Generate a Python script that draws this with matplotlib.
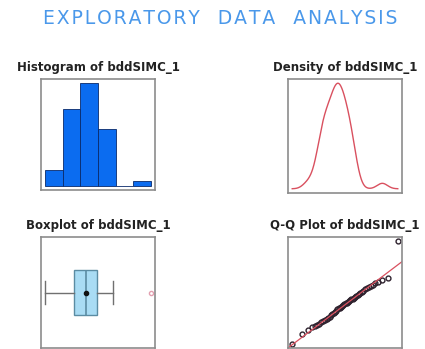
#!/usr/bin/env python3

import numpy as np
import matplotlib
matplotlib.use("Agg")
import matplotlib.pyplot as plt
from statistics import NormalDist

# sample read back from the four panels (50 values, sorted)
bddSIMC_1 = [
    0.05, 0.62, 0.83,
    1.01, 1.05, 1.13, 1.20, 1.27, 1.34, 1.41, 1.48, 1.54, 1.60,
    1.67, 1.74, 1.81, 1.88, 1.95,
    2.02, 2.07, 2.11, 2.16, 2.21, 2.25, 2.30, 2.35, 2.39, 2.44,
    2.49, 2.53, 2.58, 2.63, 2.68, 2.73, 2.78, 2.84, 2.89, 2.95,
    3.01, 3.08, 3.15, 3.22, 3.30, 3.36, 3.42, 3.50, 3.60, 3.70, 3.80,
    5.90,
]
hist_breaks = [0, 1, 2, 3, 4, 5, 6]
var_name = "bddSIMC_1"
main_words = ["EXPLORATORY", "DATA", "ANALYSIS"]

x = np.array(bddSIMC_1)
n = len(x)

W, H = 425, 349
fig = plt.figure(figsize=(W / 100, H / 100), dpi=100)

def panel(px_left, px_top, px_w, px_h):
    ax = fig.add_axes([px_left / W, 1 - (px_top + px_h) / H, px_w / W, px_h / H])
    ax.set_xticks([])
    ax.set_yticks([])
    for s in ax.spines.values():
        s.set_color("#8c8c8c")
        s.set_linewidth(1.2)
    return ax

def pad(lo, hi, f=0.04):
    r = hi - lo
    return lo - f * r, hi + f * r

title_kw = dict(fontsize=8.5, fontweight="bold", pad=6, color="#222222")

# histogram
ax1 = panel(41, 79, 114, 111)
ax1.hist(x, bins=hist_breaks, color="#0b6cf0", edgecolor="#0a2a6a", linewidth=0.6)
counts, _ = np.histogram(x, bins=hist_breaks)
ax1.set_xlim(*pad(hist_breaks[0], hist_breaks[-1]))
ax1.set_ylim(*pad(0, counts.max()))
ax1.set_title(f"Histogram of {var_name}", **title_kw)

# density (gaussian kernel, nrd0 bandwidth like R's density())
ax2 = panel(288, 79, 114, 114)
sd = x.std(ddof=1)
iqr = np.percentile(x, 75) - np.percentile(x, 25)
bw = 0.9 * min(sd, iqr / 1.34) * n ** -0.2
grid = np.linspace(x.min() - 3 * bw, x.max() + 3 * bw, 512)
dens = np.exp(-0.5 * ((grid[:, None] - x[None, :]) / bw) ** 2).sum(axis=1) / (n * bw * np.sqrt(2 * np.pi))
ax2.plot(grid, dens, color="#d9505f", linewidth=1.0)
ax2.set_xlim(*pad(grid[0], grid[-1]))
ax2.set_ylim(*pad(0, dens.max()))
ax2.set_title(f"Density of {var_name}", **title_kw)

# boxplot
ax3 = panel(41, 237, 114, 111)
ax3.boxplot(x, vert=False, widths=0.4, patch_artist=True, showmeans=True,
            boxprops=dict(facecolor="#a9dcf4", edgecolor="#5b8ca3", linewidth=1.0),
            medianprops=dict(color="#5b8ca3", linewidth=1.2),
            whiskerprops=dict(color="#707070", linewidth=1.0),
            capprops=dict(color="#707070", linewidth=1.0),
            meanprops=dict(marker="o", markerfacecolor="#111111", markeredgecolor="#111111", markersize=3),
            flierprops=dict(marker="o", markerfacecolor="none", markeredgecolor="#e3a0b0", markersize=3))
ax3.set_xlim(*pad(x.min(), x.max()))
ax3.set_ylim(0.5, 1.5)
ax3.set_yticks([])
ax3.set_xticks([])
ax3.set_title(f"Boxplot of {var_name}", **title_kw)

# normal Q-Q plot with line through the quartiles
ax4 = panel(288, 237, 114, 111)
nd = NormalDist()
theo = np.array([nd.inv_cdf((i - 0.5) / n) for i in range(1, n + 1)])
samp = np.sort(x)
ax4.plot(theo, samp, "o", markerfacecolor="none", markeredgecolor="#2e222e",
         markersize=3.5, markeredgewidth=1.0)
q1, q3 = np.percentile(x, [25, 75])
z1, z3 = nd.inv_cdf(0.25), nd.inv_cdf(0.75)
slope = (q3 - q1) / (z3 - z1)
icpt = q1 - slope * z1
xl = pad(theo.min(), theo.max())
ax4.plot(xl, [icpt + slope * v for v in xl], color="#d9505f", linewidth=0.9)
ax4.set_xlim(*xl)
ax4.set_ylim(*pad(samp.min(), samp.max()))
ax4.set_title(f"Q-Q Plot of {var_name}", **title_kw)

# main title, letters spread out a little like the original
spaced = "   ".join("\u200a".join(w) for w in main_words)
fig.text(220 / W, 1 - 19 / H, spaced, ha="center", va="center",
         fontsize=13.5, color="#4a98ea")

fig.savefig("out.png", dpi=100)
